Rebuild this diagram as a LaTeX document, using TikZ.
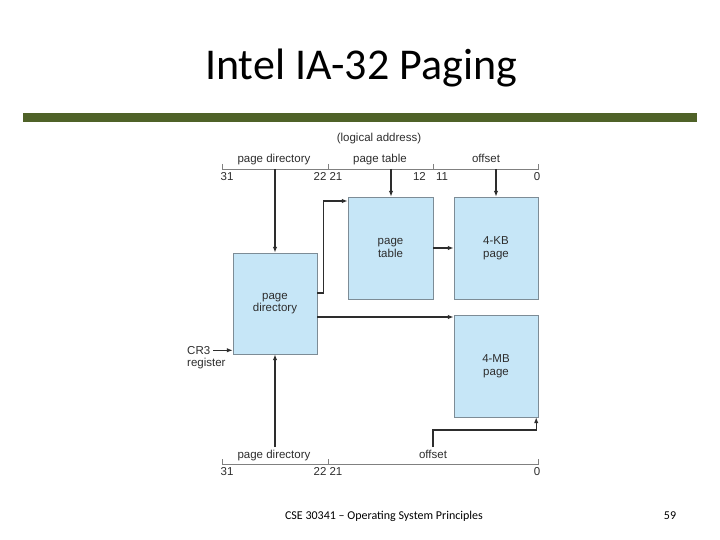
\documentclass[tikz,border=0pt]{standalone}
\usepackage{fontspec}
\setmainfont{Liberation Sans}
\newfontfamily\slidefont{Carlito}
\usetikzlibrary{arrows.meta,calc,positioning}
\definecolor{olivebar}{RGB}{79,98,40}
\definecolor{pagefill}{RGB}{198,230,247}
\definecolor{pageedge}{RGB}{125,140,150}
\definecolor{inkgray}{RGB}{45,45,45}

\begin{document}
\begin{tikzpicture}[
      x=1pt, y=-1pt,
      font=\fontsize{11.5}{12.5}\selectfont,
      box/.style={draw=pageedge, fill=pagefill, align=center, text=inkgray,
        minimum width=84pt, minimum height=101pt, inner sep=0pt},
      arr/.style={-{Latex[length=6pt,width=4.5pt]}, line width=1.2pt, inkgray},
      addr/.style={line width=0.6pt, draw=gray},
      lbl/.style={text=inkgray, inner sep=0pt, anchor=base},
      num/.style={text=inkgray, inner sep=0pt, anchor=north}
    ]
    \useasboundingbox (0,0) rectangle (720,540);

    % slide frame
    \node[anchor=base, font=\slidefont\fontsize{44}{48}\selectfont] (title) at (361,80) {Intel IA-32 Paging};
    \fill[olivebar] (23,113) rectangle (697,122);
    \node[anchor=base, font=\slidefont\fontsize{12}{14}\selectfont] (foot) at (384,519) {CSE 30341 – Operating System Principles};
    \node[anchor=base, font=\slidefont\fontsize{12}{14}\selectfont] (pgno) at (670,519) {59};

    % boxes
    \node[box] (pd) at (275,303.5) {page\\directory};
    \node[box, minimum width=85pt, minimum height=102pt] (pt) at (390.5,248) {page\\table};
    \node[box, minimum height=102pt] (kb) at (496,248) {4-KB\\page};
    \node[box, minimum height=102pt] (mb) at (496,366) {4-MB\\page};

    % logical address (top)
    \node[lbl] (la) at (379,142) {(logical address)};
    \draw[addr] (222,164) -- (222,169) -- (538,169) -- (538,164);
    \draw[addr] (328,164) -- (328,169);
    \draw[addr] (433,164) -- (433,169);
    \node[lbl] (tpd) at (274,162.5) {page directory};
    \node[lbl] (tpt) at (380,162.5) {page table};
    \node[lbl] (tof) at (486,162.5) {offset};
    \node[num] (t31) at (227,172) {31};
    \node[num] (t2221) at (328,172) {22 21};
    \node[num, anchor=north east] (t12) at (426,172) {12};
    \node[num, anchor=north west] (t11) at (436,172) {11};
    \node[num] (t0) at (537,172) {0};
    \coordinate (pdsrc) at (275,169);
    \coordinate (ptsrc) at (391,169);
    \coordinate (ofsrc) at (496,169);

    % logical address (bottom)
    \draw[addr] (222,459) -- (222,464) -- (538,464) -- (538,459);
    \draw[addr] (328,459) -- (328,464);
    \node[lbl] (bpd) at (274,458) {page directory};
    \node[lbl] (bof) at (433,458) {offset};
    \node[num] (b31) at (227,467) {31};
    \node[num] (b2221) at (328,467) {22 21};
    \node[num] (b0) at (537,467) {0};
    \coordinate (pdsrcb) at (275,447);
    \coordinate (ofsrcb) at (433,447);
    \coordinate (ofknee) at (433,430);

    % CR3
    \node[num, anchor=north west] (cr3) at (187,346) {CR3};
    \node[num, anchor=north west] (reg) at (187,358) {register};

    % connectors
    \draw[arr] (pdsrc) -- (pd);
    \draw[arr] (ptsrc) -- (ptsrc |- pt.north);
    \draw[arr] (ofsrc) -- (kb);
    \draw[arr] ([yshift=10.5pt]pd.east) -- ++(6,0) |- ([yshift=47pt]pt.west);
    \draw[arr] (pt) -- (kb);
    \draw[arr] ([yshift=-13.5pt]pd.east) -- ([yshift=49pt]mb.west);
    \draw[arr] ([xshift=3pt]cr3.east) -- (pd.west |- cr3.east);
    \draw[arr] (pdsrcb) -- (pd);
    \draw[arr] (ofsrcb) -- (ofknee) -| ([xshift=-2pt]mb.south east);
  \end{tikzpicture}
\end{document}
